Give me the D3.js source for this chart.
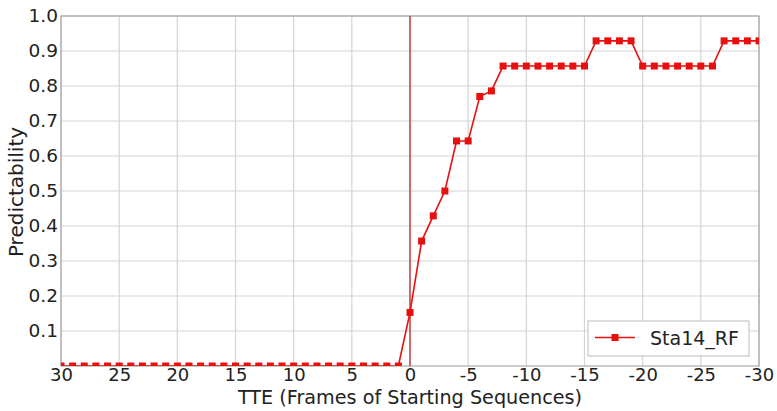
<!DOCTYPE html>
<html>
<head>
	<meta charset="utf-8">
	<title>Predictability</title>
	<script src="https://d3js.org/d3.v7.min.js"></script>
	<style>
		body { margin: 0; background: #fff; }
		text { font-family: 'DejaVu Sans', sans-serif; fill: #222; }
	</style>
</head>
<body>
	<div class="chart"></div>

	<script type="text/javascript">

		// TTE frames and predictability values
		var tte = [30, 29, 28, 27, 26, 25, 24, 23, 22, 21, 20, 19, 18, 17, 16, 15, 14, 13, 12, 11,
			10, 9, 8, 7, 6, 5, 4, 3, 2, 1, 0, -1, -2, -3, -4, -5, -6, -7, -8, -9, -10,
			-11, -12, -13, -14, -15, -16, -17, -18, -19, -20, -21, -22, -23, -24, -25, -26,
			-27, -28, -29, -30]
		var sta14RF = [0, 0, 0, 0, 0, 0, 0, 0, 0, 0, 0, 0, 0, 0, 0, 0, 0, 0, 0, 0,
			0, 0, 0, 0, 0, 0, 0, 0, 0, 0, 0.153, 0.357, 0.429, 0.5, 0.643, 0.643, 0.77, 0.786, 0.857, 0.857, 0.857,
			0.857, 0.857, 0.857, 0.857, 0.857, 0.929, 0.929, 0.929, 0.929, 0.857, 0.857, 0.857, 0.857, 0.857, 0.857, 0.857,
			0.929, 0.929, 0.929, 0.929]
		var xTicks = [30, 25, 20, 15, 10, 5, 0, -5, -10, -15, -20, -25, -30]
		var yTicks = [0.1, 0.2, 0.3, 0.4, 0.5, 0.6, 0.7, 0.8, 0.9, 1.0]
		var seriesName = 'Sta14_RF'

		var width = 777
		var height = 411
		var margin = { top: 16, right: 18, bottom: 45, left: 61 }
		var w = width - margin.left - margin.right
		var h = height - margin.top - margin.bottom
		var red = '#e8100f'

		var svg = d3.select('.chart')
			.append('svg')
			.attr('width', width)
			.attr('height', height)

		var chart = svg.append('g')
			.attr('transform', `translate(${margin.left}, ${margin.top})`)

		// 比例尺 (x reversed: 30 -> -30)
		var xScale = d3.scaleLinear().domain([30, -30]).range([0, w])
		var yScale = d3.scaleLinear().domain([0, 1]).range([h, 0])

		// grid
		chart.append('g')
			.selectAll('line')
			.data(xTicks)
			.enter()
			.append('line')
			.attr('x1', d => xScale(d))
			.attr('x2', d => xScale(d))
			.attr('y1', 0)
			.attr('y2', h)
			.attr('stroke', '#d4d4d4')
			.attr('stroke-width', 1.2)

		chart.append('g')
			.selectAll('line')
			.data(yTicks)
			.enter()
			.append('line')
			.attr('x1', 0)
			.attr('x2', w)
			.attr('y1', d => yScale(d))
			.attr('y2', d => yScale(d))
			.attr('stroke', '#d4d4d4')
			.attr('stroke-width', 1.2)

		// axes (labels only, no tick marks); plain hyphen for negatives
		var xAxis = d3.axisBottom(xScale).tickValues(xTicks).tickSize(0).tickPadding(2).tickFormat(d => String(d))
		chart.append('g')
			.attr('transform', `translate(0, ${h})`)
			.call(xAxis)
			.call(g => g.select('.domain').remove())
			.selectAll('text')
			.style('font-size', '18px')
			.style('fill', '#222')

		var yAxis = d3.axisLeft(yScale).tickValues(yTicks).tickSize(0).tickPadding(3).tickFormat(d3.format('.1f'))
		chart.append('g')
			.call(yAxis)
			.call(g => g.select('.domain').remove())
			.selectAll('text')
			.style('font-size', '18.5px')
			.style('fill', '#222')

		// frame
		chart.append('rect')
			.attr('width', w)
			.attr('height', h)
			.attr('fill', 'none')
			.attr('stroke', '#999')
			.attr('stroke-width', 1)

		// axis titles
		svg.append('text')
			.attr('x', margin.left + xScale(0))
			.attr('y', height - 7)
			.attr('text-anchor', 'middle')
			.style('font-size', '19.2px')
			.text('TTE (Frames of Starting Sequences)')

		svg.append('text')
			.attr('transform', `translate(23, ${margin.top + h / 2 + 1}) rotate(-90)`)
			.attr('text-anchor', 'middle')
			.style('font-size', '20px')
			.text('Predictability')

		// clip
		svg.append('defs')
			.append('clipPath')
			.attr('id', 'plot-clip')
			.append('rect')
			.attr('width', w)
			.attr('height', h)

		var points = tte.map((t, i) => [t, sta14RF[i]])
		var plot = chart.append('g').attr('clip-path', 'url(#plot-clip)')

		// 0 frame marker
		plot.append('line')
			.attr('x1', xScale(0))
			.attr('x2', xScale(0))
			.attr('y1', 0)
			.attr('y2', h)
			.attr('stroke', '#c4282a')
			.attr('stroke-width', 1.3)

		var line = d3.line()
			.x(d => xScale(d[0]))
			.y(d => yScale(d[1]))

		plot.append('path')
			.attr('d', line(points))
			.attr('fill', 'none')
			.attr('stroke', red)
			.attr('stroke-width', 1.6)

		plot.append('g')
			.selectAll('rect')
			.data(points)
			.enter()
			.append('rect')
			.attr('x', d => xScale(d[0]) - 3.5)
			.attr('y', d => yScale(d[1]) - 3.5)
			.attr('width', 7)
			.attr('height', 7)
			.attr('fill', red)

		// legend
		var legend = chart.append('g')
			.attr('transform', `translate(${w - 171}, ${h - 45})`)
		legend.append('rect')
			.attr('width', 161)
			.attr('height', 35)
			.attr('fill', '#fff')
			.attr('stroke', '#bbb')
			.attr('stroke-width', 1)
		legend.append('line')
			.attr('x1', 7)
			.attr('x2', 47)
			.attr('y1', 16.5)
			.attr('y2', 16.5)
			.attr('stroke', red)
			.attr('stroke-width', 1.6)
		legend.append('rect')
			.attr('x', 23.5)
			.attr('y', 13)
			.attr('width', 7)
			.attr('height', 7)
			.attr('fill', red)
		legend.append('text')
			.attr('x', 62)
			.attr('y', 24)
			.style('font-size', '19px')
			.text(seriesName)

	</script>
</body>
</html>
